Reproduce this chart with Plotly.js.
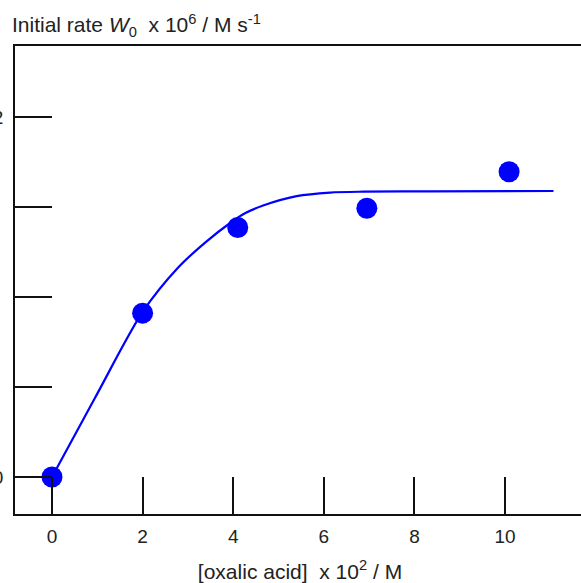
<!DOCTYPE html>
<html>
<head>
<meta charset="utf-8">
<script src="https://cdn.plot.ly/plotly-3.0.1.min.js"></script>
<style>
  html, body { margin: 0; padding: 0; overflow: hidden; background: #fff; }
  #chart { width: 585px; height: 583px; }
</style>
</head>
<body>
<div id="chart"></div>
<script>
// Measured initial rates vs. oxalic acid concentration
const oxalicConc = [0, 2.0, 4.1, 6.95, 10.09];      // [oxalic acid] x 10^2 / M
const initialRate = [0, 0.91, 1.386, 1.493, 1.696]; // W0 x 10^6 / M s^-1

// Fitted saturation curve (sampled)
const fitConc = [0, 0.95, 1.99, 2.79, 3.38, 3.97, 4.26, 4.66, 5.40, 6.14, 6.87, 8.34, 11.07];
const fitRate = [0, 0.44, 0.913, 1.165, 1.302, 1.418, 1.465, 1.508, 1.560, 1.580, 1.585, 1.587, 1.589];

// Axis ticks
const xTicks = [0, 2, 4, 6, 8, 10];
const yTicks = [0, 0.5, 1, 1.5, 2];
const yTickText = ["0", "", "", "", "2"];

const blue = "#0000ff";
const font = "Liberation Sans, Arial, sans-serif";

const traces = [
  {
    x: fitConc, y: fitRate, type: "scatter", mode: "lines",
    line: { color: blue, width: 2.2, shape: "spline", smoothing: 0.8 },
    hoverinfo: "skip"
  },
  {
    x: oxalicConc, y: initialRate, type: "scatter", mode: "markers",
    marker: { color: blue, size: 21 },
    cliponaxis: false
  }
];

const layout = {
  width: 585, height: 583,
  margin: { l: 15, r: 0, t: 46, b: 69 },
  paper_bgcolor: "#fff", plot_bgcolor: "#fff",
  showlegend: false,
  font: { family: font, color: "#222" },
  title: {
    text: "Initial rate <i>W</i><sub>0</sub>  x 10<sup>6</sup> / M s<sup>-1</sup>",
    font: { family: font, size: 21, color: "#222" },
    xref: "container", yref: "container",
    x: 12 / 585, xanchor: "left",
    y: 1 - 25 / 583, yanchor: "middle"
  },
  xaxis: {
    range: [-0.817, -0.817 + 570 / 45.3],
    tickvals: xTicks,
    ticks: "inside", ticklen: 37, tickwidth: 2, tickcolor: "#111",
    showline: true, linewidth: 2, linecolor: "#111", mirror: true,
    showgrid: false, zeroline: false,
    tickfont: { family: font, size: 19, color: "#222" },
    ticklabelstandoff: 4,
    title: {
      text: "[oxalic acid]  x 10<sup>2</sup> / M",
      font: { family: font, size: 21, color: "#222" },
      standoff: 19
    }
  },
  yaxis: {
    range: [-37 / 180, (477 - 46) / 180],
    tickvals: yTicks, ticktext: yTickText,
    ticks: "inside", ticklen: 37, tickwidth: 2, tickcolor: "#111",
    showline: true, linewidth: 2, linecolor: "#111", mirror: true,
    showgrid: false, zeroline: false,
    tickfont: { family: font, size: 19, color: "#222" },
    ticklabelstandoff: 6
  }
};

Plotly.newPlot("chart", traces, layout, { staticPlot: true, displayModeBar: false });
</script>
</body>
</html>
